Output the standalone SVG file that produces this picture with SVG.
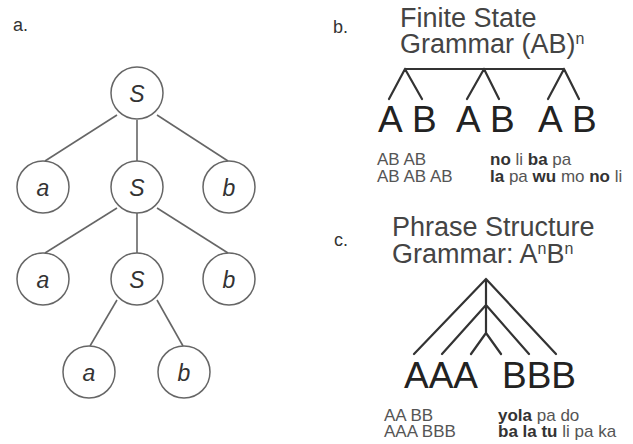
<svg xmlns="http://www.w3.org/2000/svg" width="633" height="444" viewBox="0 0 633 444">
  <style>
    .lbl { font-family: "Liberation Sans", Arial, sans-serif; font-size: 18px; fill: #333; }
    .node circle { fill: #fff; stroke: #666; stroke-width: 1.5; }
    .node text { font-family: "Liberation Sans", Arial, sans-serif; font-size: 23px; font-style: italic; fill: #333; text-anchor: middle; }
    .edge { stroke: #666; stroke-width: 1.6; fill: none; }
    .tree { stroke: #333; stroke-width: 2.2; fill: none; stroke-linecap: round; stroke-linejoin: round; }
    .title { font-family: "Liberation Sans", Arial, sans-serif; font-size: 27px; fill: #444; }
    .big { font-family: "Liberation Sans", Arial, sans-serif; font-size: 37px; fill: #222; }
    .small { font-family: "Liberation Sans", Arial, sans-serif; font-size: 17px; fill: #555; }
    .b { font-weight: bold; fill: #333; }
  </style>
  <rect width="633" height="444" fill="#fff"/>

  <!-- panel labels -->
  <text class="lbl" x="13" y="31">a.</text>
  <text class="lbl" x="333" y="33">b.</text>
  <text class="lbl" x="334" y="246">c.</text>

  <!-- panel a: connectors of the S tree -->
  <g id="connectors">
    <line class="edge" x1="117" y1="115" x2="45" y2="161"/>
    <line class="edge" x1="137" y1="120" x2="137" y2="161"/>
    <line class="edge" x1="157" y1="115" x2="228" y2="161"/>
    <line class="edge" x1="117" y1="208" x2="45" y2="253"/>
    <line class="edge" x1="137" y1="213" x2="137" y2="253"/>
    <line class="edge" x1="157" y1="208" x2="228" y2="253"/>
    <line class="edge" x1="117" y1="300" x2="90" y2="346"/>
    <line class="edge" x1="157" y1="300" x2="183" y2="346"/>
  </g>

  <!-- panel a: nodes -->
  <g id="s1" class="node"><circle cx="137" cy="93" r="26"/><text x="137" y="102">S</text></g>
  <g id="a1" class="node"><circle cx="43" cy="187" r="26"/><text x="43" y="196">a</text></g>
  <g id="s2" class="node"><circle cx="137" cy="187" r="26"/><text x="137" y="196">S</text></g>
  <g id="b1" class="node"><circle cx="229" cy="187" r="26"/><text x="229" y="196">b</text></g>
  <g id="a2" class="node"><circle cx="43" cy="279" r="26"/><text x="43" y="288">a</text></g>
  <g id="s3" class="node"><circle cx="137" cy="279" r="26"/><text x="137" y="288">S</text></g>
  <g id="b2" class="node"><circle cx="229" cy="279" r="26"/><text x="229" y="288">b</text></g>
  <g id="a3" class="node"><circle cx="89" cy="372" r="26"/><text x="89" y="381">a</text></g>
  <g id="b3" class="node"><circle cx="184" cy="372" r="26"/><text x="184" y="381">b</text></g>

  <!-- panel b: finite state grammar -->
  <g id="fsg">
    <text class="title" x="400" y="27">Finite State</text>
    <text class="title" x="400" y="53">Grammar (AB)<tspan font-size="16" dy="-9">n</tspan></text>
    <path class="tree" d="M405 69 H564 M405 69 L389 99 M405 69 L422 99 M484 69 L467 99 M484 69 L499 99 M564 69 L548 99 M564 69 L579 99"/>
    <text class="big" x="378" y="132">A</text>
    <text class="big" x="412" y="132">B</text>
    <text class="big" x="456" y="132">A</text>
    <text class="big" x="490" y="132">B</text>
    <text class="big" x="538" y="132">A</text>
    <text class="big" x="572" y="132">B</text>
    <text class="small" x="377" y="165">AB AB</text>
    <text class="small" x="377" y="182">AB AB AB</text>
    <text class="small" x="490" y="165"><tspan class="b">no</tspan> li <tspan class="b">ba</tspan> pa</text>
    <text class="small" x="490" y="182"><tspan class="b">la</tspan> pa <tspan class="b">wu</tspan> mo <tspan class="b">no</tspan> li</text>
  </g>

  <!-- panel c: phrase structure grammar -->
  <g id="psg">
    <text class="title" x="392" y="236">Phrase Structure</text>
    <text class="title" x="392" y="263">Grammar: A<tspan font-size="16" dy="-9">n</tspan><tspan dy="9">B</tspan><tspan font-size="16" dy="-9">n</tspan></text>
    <path class="tree" d="M486 279 V333 M486 279 L414 354 M486 279 L556 354 M486 305 L442 354 M486 305 L529 354 M486 333 L471 354 M486 333 L501 354"/>
    <text class="big" x="404" y="388">AAA</text>
    <text class="big" x="502" y="388">BBB</text>
    <text class="small" x="384" y="421">AA BB</text>
    <text class="small" x="384" y="437">AAA BBB</text>
    <text class="small" x="498" y="421"><tspan class="b">yola</tspan> pa do</text>
    <text class="small" x="498" y="437"><tspan class="b">ba la tu</tspan> li pa ka</text>
  </g>
</svg>
